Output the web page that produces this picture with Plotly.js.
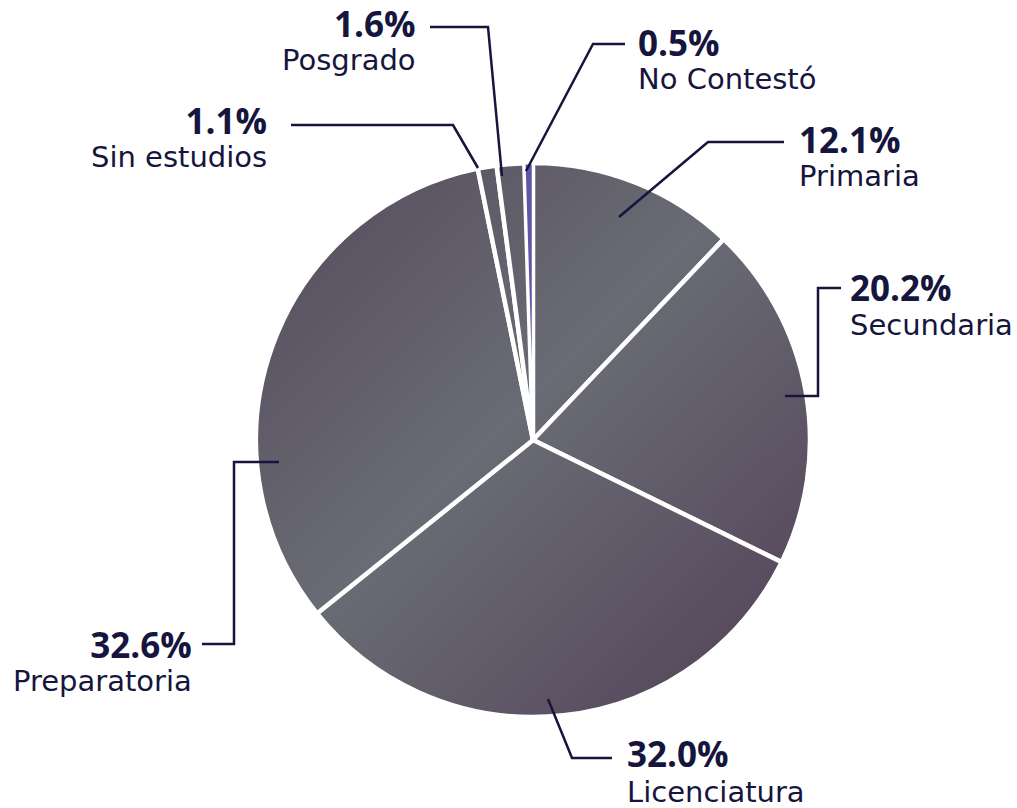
<!DOCTYPE html>
<html>
<head>
<meta charset="utf-8">
<script src="https://cdn.plot.ly/plotly-3.0.1.min.js"></script>
<style>
  html, body { margin: 0; padding: 0; background: #ffffff; }
  #chart { width: 1017px; height: 808px; }
</style>
</head>
<body>
<div id="chart"></div>
<script>
// ---- data ----
const categories = ['Primaria', 'Secundaria', 'Licenciatura', 'Preparatoria', 'Sin estudios', 'Posgrado', 'No Contestó'];
const percentages = [12.1, 20.2, 32.0, 32.6, 1.1, 1.6, 0.5];
const sliceColors = ['#625f69', '#625f69', '#625f69', '#625f69', '#625f69', '#625f69', '#5e56a6'];

// ---- layout config (pixels) ----
const W = 1017, H = 808;
const pieCenter = [533, 440], pieRadius = 277;
const sliceLineWidths = [4.5, 4.5, 4.5, 4.5, 4.5, 4.5, 2.5];
// x: anchor edge of the label block, base: baseline of the percentage, gap: distance between the two baselines
const labelCfg = [
  { side: 'right', x: 797, base: 152, gap: 33, leader: [[619,217],[708,142],[784,142]] },
  { side: 'right', x: 848, base: 300, gap: 34, leader: [[785,396],[818,396],[818,288],[841,288]] },
  { side: 'right', x: 625, base: 766, gap: 35, leader: [[548,699],[572,758],[612,758]] },
  { side: 'left',  x: 194, base: 657, gap: 33, leader: [[279,462],[234,462],[234,644],[202,644]] },
  { side: 'left',  x: 269, base: 133, gap: 33, leader: [[478,168],[453,125],[291,125]] },
  { side: 'left',  x: 418, base: 36,  gap: 33, leader: [[502,176],[488,27],[430,27]] },
  { side: 'right', x: 636, base: 55,  gap: 33, leader: [[526,171],[593,44],[625,44]] }
];
const textColor = '#15153d';
const numSize = 35, nameSize = 29;
const numAscent = 1.07;

const px = x => x / W;
const py = y => 1 - y / H;

const annotations = [];
const shapes = [];
categories.forEach((cat, i) => {
  const c = labelCfg[i];
  const anchor = c.side === 'right' ? 'left' : 'right';
  const txt =
    '<span style="font-family:\'Open Sans\',sans-serif;font-size:' + numSize + 'px;font-weight:bold">' +
    percentages[i].toFixed(1) + '%</span><br>' +
    '<span style="font-family:\'DejaVu Sans\',sans-serif;font-size:' + nameSize + 'px">' + cat + '</span>';
  annotations.push({
    xref: 'paper', yref: 'paper',
    x: px(c.x), y: py(c.base - numSize * numAscent - 1),
    xanchor: anchor, yanchor: 'top', align: anchor, showarrow: false,
    text: txt,
    font: { family: 'Open Sans, sans-serif', size: c.gap / 1.3, color: textColor }
  });
  const d = c.leader.map((p, k) => (k === 0 ? 'M ' : 'L ') + px(p[0]) + ' ' + py(p[1])).join(' ');
  shapes.push({
    type: 'path', xref: 'paper', yref: 'paper', path: d,
    line: { color: textColor, width: 2.5 }, layer: 'above'
  });
});

const trace = {
  type: 'pie',
  labels: categories,
  values: percentages,
  sort: false,
  direction: 'clockwise',
  rotation: 0,
  textinfo: 'none',
  hoverinfo: 'skip',
  showlegend: false,
  marker: { colors: sliceColors, line: { color: '#ffffff', width: sliceLineWidths } },
  domain: {
    x: [px(pieCenter[0] - pieRadius), px(pieCenter[0] + pieRadius)],
    y: [py(pieCenter[1] + pieRadius), py(pieCenter[1] - pieRadius)]
  }
};

const layout = {
  width: W, height: H,
  margin: { l: 0, r: 0, t: 0, b: 0 },
  paper_bgcolor: '#ffffff',
  plot_bgcolor: '#ffffff',
  showlegend: false,
  annotations: annotations,
  shapes: shapes
};

Plotly.newPlot('chart', [trace], layout, { displayModeBar: false, staticPlot: true }).then(gd => {
  // soft diagonal gradient across the whole pie (except the last slice)
  const svg = gd.querySelector('svg.main-svg');
  const NS = 'http://www.w3.org/2000/svg';
  let defs = svg.querySelector('defs');
  if (!defs) { defs = document.createElementNS(NS, 'defs'); svg.insertBefore(defs, svg.firstChild); }
  const paths = gd.querySelectorAll('.slice path.surface');
  const p1 = [pieCenter[0] - pieRadius, pieCenter[1] - pieRadius];
  const p2 = [pieCenter[0] + pieRadius, pieCenter[1] + pieRadius];
  const stops = [[0, '#56495c'], [0.46, '#696c74'], [1, '#523f57']];
  paths.forEach((path, i) => {
    if (i === categories.length - 1) return;
    const m = path.getScreenCTM().inverse();
    const a = svg.createSVGPoint(); a.x = p1[0]; a.y = p1[1];
    const b = svg.createSVGPoint(); b.x = p2[0]; b.y = p2[1];
    const la = a.matrixTransform(m), lb = b.matrixTransform(m);
    const g = document.createElementNS(NS, 'linearGradient');
    g.setAttribute('id', 'pieGrad' + i);
    g.setAttribute('gradientUnits', 'userSpaceOnUse');
    g.setAttribute('x1', la.x); g.setAttribute('y1', la.y);
    g.setAttribute('x2', lb.x); g.setAttribute('y2', lb.y);
    stops.forEach(s => {
      const st = document.createElementNS(NS, 'stop');
      st.setAttribute('offset', s[0]);
      st.setAttribute('stop-color', s[1]);
      g.appendChild(st);
    });
    defs.appendChild(g);
    path.style.fill = 'url(#pieGrad' + i + ')';
  });
});
</script>
</body>
</html>
